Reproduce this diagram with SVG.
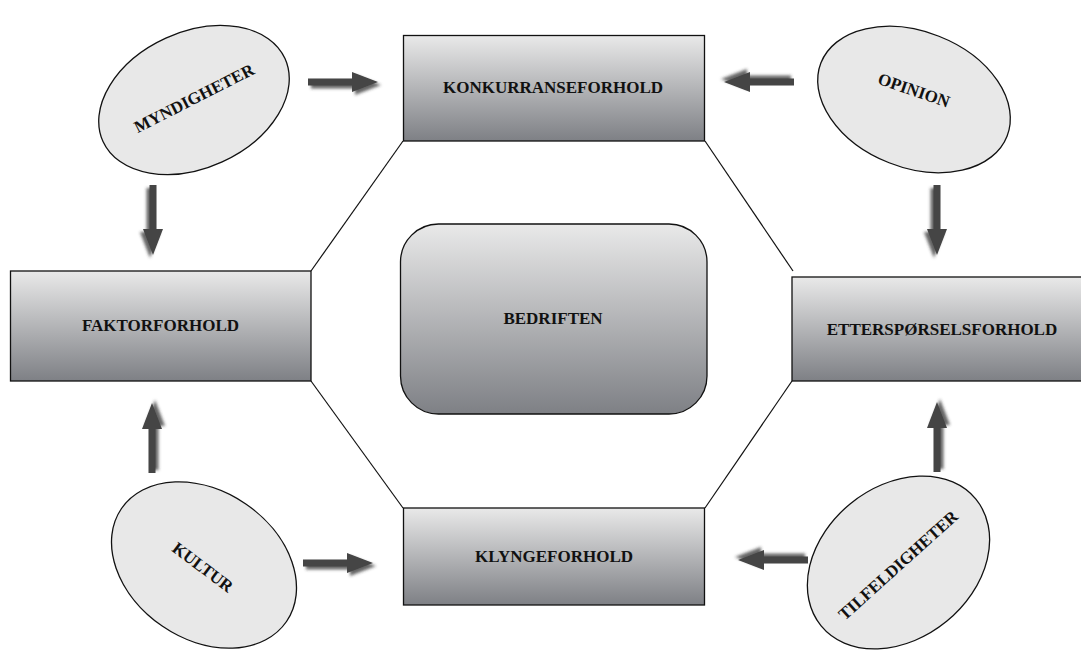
<svg xmlns="http://www.w3.org/2000/svg" width="1081" height="650" viewBox="0 0 1081 650">
  <defs>
    <linearGradient id="boxGrad" x1="0" y1="0" x2="0" y2="1">
      <stop offset="0" stop-color="#e9e9e9"/>
      <stop offset="1" stop-color="#7e8085"/>
    </linearGradient>
    <filter id="shadow" x="-30%" y="-30%" width="170%" height="170%">
      <feGaussianBlur in="SourceAlpha" stdDeviation="1.8"/>
      <feOffset dx="3" dy="3" result="b"/>
      <feFlood flood-color="#333" flood-opacity="0.75"/>
      <feComposite in2="b" operator="in"/>
      <feMerge>
        <feMergeNode/>
        <feMergeNode in="SourceGraphic"/>
      </feMerge>
    </filter>
    <!-- block arrow pointing right, 70 long, tip at x=0 -->
    <path id="arrow" d="M-70,-3.5 L-26,-3.5 L-26,-10 L0,0 L-26,10 L-26,3.5 L-70,3.5 Z"/>
  </defs>
  <style>
    .box { fill: url(#boxGrad); stroke: #111; stroke-width: 1.3; }
    .oval { fill: #e8e8e8; stroke: #111; stroke-width: 1.3; }
    .lbl { font-family: "Liberation Serif", "Times New Roman", serif; font-weight: bold; font-size: 17px; fill: #111; text-anchor: middle; }
    .link { stroke: #111; stroke-width: 1.2; fill: none; }
    .arr { fill: #454545; filter: url(#shadow); }
  </style>
  <rect width="1081" height="650" fill="#fff"/>

  <!-- hexagon connectors between the condition boxes -->
  <g id="connectors">
    <line class="link" x1="403" y1="141" x2="311" y2="271"/>
    <line class="link" x1="705" y1="141" x2="793" y2="271"/>
    <line class="link" x1="311" y1="381" x2="403" y2="508"/>
    <line class="link" x1="792" y1="381" x2="705" y2="508"/>
    <!-- influence arrows -->
    <use href="#arrow" class="arr" transform="translate(378,82)"/>
    <use href="#arrow" class="arr" transform="translate(724,82) rotate(180)"/>
    <use href="#arrow" class="arr" transform="translate(153,255) rotate(90)"/>
    <use href="#arrow" class="arr" transform="translate(937,255) rotate(90)"/>
    <use href="#arrow" class="arr" transform="translate(152,403) rotate(-90)"/>
    <use href="#arrow" class="arr" transform="translate(937,402) rotate(-90)"/>
    <use href="#arrow" class="arr" transform="translate(373,563)"/>
    <use href="#arrow" class="arr" transform="translate(738,560) rotate(180)"/>
  </g>

  <g id="konkurranseforhold">
    <rect class="box" x="403.5" y="35.5" width="301" height="105.5"/>
    <text class="lbl" x="553" y="93">KONKURRANSEFORHOLD</text>
  </g>
  <g id="faktorforhold">
    <rect class="box" x="10.5" y="271" width="300.5" height="110"/>
    <text class="lbl" x="160.5" y="331">FAKTORFORHOLD</text>
  </g>
  <g id="bedriften">
    <rect class="box" x="400.5" y="224" width="306.5" height="190" rx="38" ry="38"/>
    <text class="lbl" x="553" y="324">BEDRIFTEN</text>
  </g>
  <g id="ettersporselsforhold">
    <rect class="box" x="792" y="277" width="300" height="104"/>
    <text class="lbl" x="942" y="335">ETTERSPØRSELSFORHOLD</text>
  </g>
  <g id="klyngeforhold">
    <rect class="box" x="403.5" y="508" width="301" height="97"/>
    <text class="lbl" x="554" y="562">KLYNGEFORHOLD</text>
  </g>

  <g id="myndigheter">
    <ellipse class="oval" cx="194" cy="100" rx="100" ry="68" transform="rotate(-24.5 194 100)"/>
    <text class="lbl" transform="translate(194,98) rotate(-27)" y="6">MYNDIGHETER</text>
  </g>
  <g id="opinion">
    <ellipse class="oval" cx="914" cy="99.5" rx="100" ry="68" transform="rotate(21.5 914 99.5)"/>
    <text class="lbl" transform="translate(914,90) rotate(19)" y="6">OPINION</text>
  </g>
  <g id="kultur">
    <ellipse class="oval" cx="204" cy="565" rx="100" ry="74" transform="rotate(34.4 204 565)"/>
    <text class="lbl" transform="translate(203,567) rotate(37)" y="6">KULTUR</text>
  </g>
  <g id="tilfeldigheter">
    <ellipse class="oval" cx="898.5" cy="562.5" rx="100" ry="76" transform="rotate(-39.3 898.5 562.5)"/>
    <text class="lbl" transform="translate(898,565) rotate(-42)" y="6">TILFELDIGHETER</text>
  </g>
</svg>
